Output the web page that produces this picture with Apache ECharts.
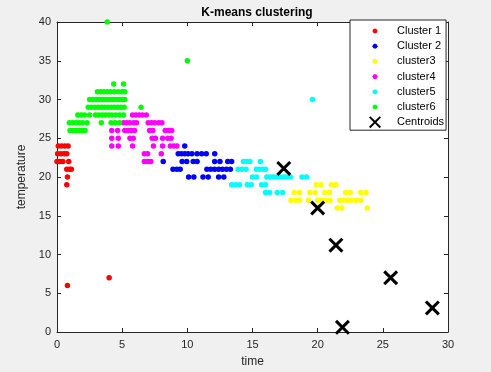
<!DOCTYPE html>
<html><head><meta charset="utf-8">
<script src="https://cdn.jsdelivr.net/npm/echarts@6/dist/echarts.min.js"></script>
<style>html,body{margin:0;padding:0;background:#f0f0f0}#c{width:491px;height:372px}</style>
</head><body><div id="c"></div><script>
const seriesNames = ['Cluster 1','Cluster 2','cluster3','cluster4','cluster5','cluster6','Centroids'];
const seriesColors = ['#ff0000','#0000ff','#ffff00','#ff00ff','#00ffff','#00ff00','#000000'];

const cluster1 = [
[0.1,24],[0.35,24],[0.6,24],[0.85,24],
[0.05,23],[0.3,23],[0.55,23],[0.75,23],
[0.0,22],[0.2,22],[0.45,22],[0.9,22],
[0.75,21],[0.95,21],[1.1,21],
[0.8,20],[0.75,19],
[0.8,6],[4.0,7]];

const cluster2 = [
[9.8,24],
[9.3,23],[9.55,23],[9.8,23],[10.05,23],[10.35,23],[10.75,23],[11.1,23],[11.45,23],[12.1,23],
[8.15,22],[9.6,22],[9.95,22],[10.45,22],[10.75,22],[12.1,22],[12.5,22],[13.1,22],[13.4,22],
[8.9,21],[9.2,21],[9.45,21],[11.5,21],[11.8,21],[12.1,21],[12.4,21],[12.7,21],[13.0,21],[13.3,21],
[10.1,20],[10.5,20],[11.2,20],[11.6,20],[12.4,20],[12.8,20]];

const cluster3 = [
[19.9,19],[20.25,19],[21.05,19],[21.4,19],
[18.2,18],[18.6,18],[19.4,18],[19.8,18],[20.55,18],[20.9,18],[22.15,18],[22.5,18],[23.3,18],[23.7,18],
[17.95,17],[18.3,17],[18.6,17],[19.3,17],[20.0,17],[20.3,17],[20.6,17],[20.95,17],[21.7,17],[22.0,17],[22.3,17],[22.6,17],[22.95,17],[23.3,17],
[21.5,16],[21.85,16],[23.8,16]];

const cluster4 = [
[5.8,28],[6.05,28],[6.3,28],[6.55,28],[6.85,28],
[5.1,27],[5.35,27],[5.6,27],[5.9,27],[6.1,27],[7.0,27],[7.25,27],[7.5,27],[7.8,27],[8.05,27],
[4.2,26],[4.65,26],[5.2,26],[5.45,26],[5.7,26],[5.95,26],[7.1,26],[7.35,26],[8.3,26],[8.55,26],[8.8,26],
[4.2,25],[4.7,25],[5.6,25],[5.85,25],[7.3,25],[7.55,25],[8.1,25],[8.5,25],[8.75,25],
[4.2,24],[4.7,24],[5.8,24],[7.4,24],[8.1,24],[8.7,24],[8.95,24],[9.2,24],
[6.7,23],[6.95,23],[8.0,23],
[6.7,22],[6.95,22],[7.2,22]];

const cluster5 = [
[14.3,22],[14.55,22],[14.8,22],[15.6,22],
[13.9,21],[14.2,21],[14.5,21],[15.3,21],[15.55,21],[15.8,21],[16.0,21],
[15.0,20],[15.3,20],[16.1,20],[16.35,20],[16.6,20],[16.85,20],[17.1,20],[17.35,20],[17.6,20],[17.9,20],[18.8,20],[19.15,20],
[13.4,19],[13.7,19],[14.0,19],[14.6,19],[14.9,19],[15.7,19],[16.0,19],
[16.0,18],[16.3,18],[16.9,18],[17.3,18],
[19.6,30]];

const cluster6 = [
[1.0,26],[1.2,26],[1.45,26],[1.7,26],[1.95,26],[2.15,26],
[0.95,27],[1.2,27],[1.45,27],[1.7,27],[1.95,27],[2.3,27],[3.4,27],[4.15,27],[4.45,27],[4.8,27],
[1.6,28],[1.85,28],[2.1,28],[2.5,28],[2.95,28],[3.2,28],[3.45,28],[3.7,28],[3.95,28],[4.2,28],[4.5,28],[4.8,28],[5.1,28],
[2.4,29],[2.65,29],[2.9,29],[3.15,29],[3.4,29],[3.65,29],[3.9,29],[4.15,29],[4.4,29],[4.65,29],[4.9,29],[5.15,29],[6.45,29],
[2.5,30],[2.75,30],[3.0,30],[3.25,30],[3.5,30],[3.75,30],[4.0,30],[4.25,30],[4.5,30],[4.75,30],[5.0,30],[5.2,30],
[3.1,31],[3.35,31],[3.6,31],[3.85,31],[4.1,31],[4.4,31],[4.7,31],[5.0,31],[5.2,31],
[4.35,32],[5.1,32],
[3.85,40],[10.0,35]];

const centroids = [[17.4,21.1],[20.0,16.0],[21.4,11.2],[21.9,0.6],[25.6,7.0],[28.8,3.1]];

const xRange = [0, 30], xStep = 5;
const yRange = [0, 40], yStep = 5;

const clusters = [cluster1, cluster2, cluster3, cluster4, cluster5, cluster6];

const axisColor = '#262626';
const font = 'Liberation Sans, Arial, sans-serif';
const xPath = 'path://M0 2L2 0L14 12L12 14Z M12 0L14 2L2 14L0 12Z';
const dotIcon = 'path://M0 0M34 12M14.4 6L15.2 4.2L17 3.4L18.8 4.2L19.6 6L18.8 7.8L17 8.6L15.2 7.8L14.4 6Z';
const xIcon = 'path://M0 0M34 12M11 1.4L12.4 0L17 4.6L21.6 0L23 1.4L18.4 6L23 10.6L21.6 12L17 7.4L12.4 12L11 10.6L15.6 6Z';

function xAx(pos, main) {
  return {
    type: 'value', position: pos, min: xRange[0], max: xRange[1], interval: xStep,
    axisLine: {show: true, onZero: false, lineStyle: {color: axisColor, width: 1}},
    axisTick: {show: true, inside: true, length: 4, lineStyle: {color: axisColor}},
    axisLabel: {show: main, color: axisColor, fontSize: 11, fontFamily: font, margin: 7},
    splitLine: {show: false},
    name: main ? 'time' : '', nameLocation: 'middle', nameGap: 24,
    nameTextStyle: {color: axisColor, fontSize: 12, fontFamily: font}
  };
}
function yAx(pos, main) {
  return {
    type: 'value', position: pos, min: yRange[0], max: yRange[1], interval: yStep,
    axisLine: {show: true, onZero: false, lineStyle: {color: axisColor, width: 1}},
    axisTick: {show: true, inside: true, length: 4, lineStyle: {color: axisColor}},
    axisLabel: {show: main, color: axisColor, fontSize: 11, fontFamily: font, margin: 6},
    splitLine: {show: false},
    name: main ? 'temperature' : '', nameLocation: 'middle', nameGap: 23,
    nameTextStyle: {color: axisColor, fontSize: 12, fontFamily: font}
  };
}

const series = clusters.map((d, i) => ({
  name: seriesNames[i], type: 'scatter', data: d, xAxisIndex: 0, yAxisIndex: 0,
  symbol: 'circle', symbolSize: 5.5, itemStyle: {color: seriesColors[i], opacity: 1},
  animation: false, silent: true
}));
series.push({
  name: seriesNames[6], type: 'scatter', data: centroids, xAxisIndex: 0, yAxisIndex: 0,
  symbol: xPath, symbolSize: 15, itemStyle: {color: seriesColors[6], opacity: 1},
  animation: false, silent: true
});

const chart = echarts.init(document.getElementById('c'), null, {renderer: 'canvas'});
chart.setOption({
  backgroundColor: '#f0f0f0',
  animation: false,
  title: {
    text: 'K-means clustering', left: 252, top: 2, textAlign: 'center',
    textStyle: {fontSize: 12, fontWeight: 'bold', color: '#000', fontFamily: font}
  },
  grid: {left: 57, right: 43, top: 22, bottom: 40, show: true, backgroundColor: '#ffffff', borderWidth: 0,
         containLabel: false, outerBoundsMode: 'none'},
  legend: {
    orient: 'vertical', left: 350, top: 20,
    padding: [5, 2, 2, 8], itemGap: 3.2, itemWidth: 34, itemHeight: 12,
    backgroundColor: '#ffffff', borderColor: axisColor, borderWidth: 1, borderRadius: 0,
    textStyle: {fontSize: 11, color: '#000', fontFamily: font, padding: [0, 0, 0, 0]},
    selectedMode: false,
    data: seriesNames.map((n, i) => ({name: n, icon: i === 6 ? xIcon : dotIcon, itemStyle: {opacity: 1}}))
  },
  xAxis: [xAx('bottom', true), xAx('top', false)],
  yAxis: [yAx('left', true), yAx('right', false)],
  series: series
});
</script></body></html>
